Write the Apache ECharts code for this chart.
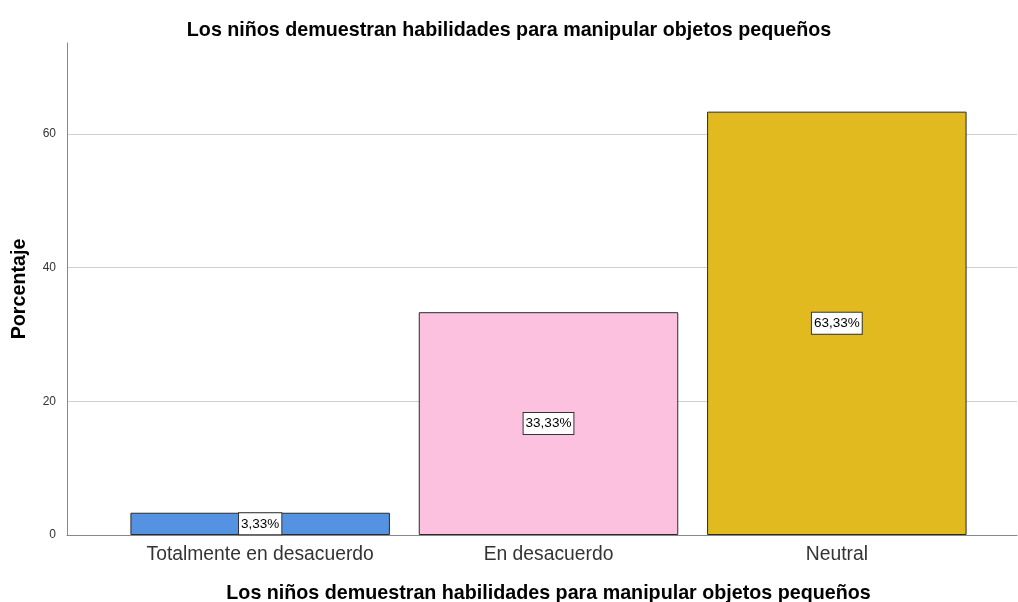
<!DOCTYPE html>
<html>
<head>
<meta charset="utf-8">
<script src="https://cdn.jsdelivr.net/npm/echarts@6/dist/echarts.min.js"></script>
<style>
  html, body { margin: 0; padding: 0; background: #fff; }
  #chart { width: 1018px; height: 602px; }
</style>
</head>
<body>
<div id="chart"></div>
<script>
// Response categories and their share of children (percent)
const categories = ['Totalmente en desacuerdo', 'En desacuerdo', 'Neutral'];
const percentages = [3.33, 33.33, 63.33];
const barColors = ['#5593E2', '#FDC1E0', '#E0BA1F'];
const yTicks = [0, 20, 40, 60];

const chartTitle = 'Los niños demuestran habilidades para manipular objetos pequeños';
const xTitle = 'Los niños demuestran habilidades para manipular objetos pequeños';
const yTitle = 'Porcentaje';

const font = '"Liberation Sans", Arial, sans-serif';
const yMax = 73.6;

const chart = echarts.init(document.getElementById('chart'), null, { renderer: 'canvas' });

chart.setOption({
  backgroundColor: '#ffffff',
  animation: false,
  title: {
    text: chartTitle,
    left: 'center',
    top: 16,
    textStyle: { fontFamily: font, fontSize: 19.7, fontWeight: 'bold', color: '#000' }
  },
  grid: [
    // frame grid: y axis, gridlines, baseline
    { left: 67, right: 1, top: 43, bottom: 67, outerBoundsMode: 'none', containLabel: false },
    // bar grid: category bands
    { left: 116, right: 37, top: 43, bottom: 67, outerBoundsMode: 'none', containLabel: false }
  ],
  xAxis: [
    {
      gridIndex: 0, type: 'value', min: 0, max: 1,
      axisLine: { show: true, onZero: false, lineStyle: { color: '#888', width: 1 } },
      axisTick: { show: false }, axisLabel: { show: false }, splitLine: { show: false }
    },
    {
      gridIndex: 1, type: 'category', data: categories,
      axisLine: { show: false }, axisTick: { show: false },
      axisLabel: {
        fontFamily: font, fontSize: 19.3, color: '#333', margin: 10,
        interval: 0, hideOverlap: false
      },
      name: xTitle, nameLocation: 'middle', nameGap: 49,
      nameTextStyle: { fontFamily: font, fontSize: 19.7, fontWeight: 'bold', color: '#000' }
    }
  ],
  yAxis: [
    {
      gridIndex: 0, type: 'value', min: 0, max: yMax,
      axisLine: { show: true, lineStyle: { color: '#888', width: 1 } },
      axisTick: { show: false, customValues: yTicks },
      axisLabel: {
        fontFamily: font, fontSize: 12, color: '#333', margin: 11,
        customValues: yTicks
      },
      splitLine: { show: true, lineStyle: { color: '#cfcfcf', width: 1 } },
      interval: 20,
      name: yTitle, nameLocation: 'middle', nameGap: 37, nameRotate: 90,
      nameTextStyle: { fontFamily: font, fontSize: 19.7, fontWeight: 'bold', color: '#000' }
    },
    {
      gridIndex: 1, type: 'value', min: 0, max: yMax, show: false,
      splitLine: { show: false }
    }
  ],
  series: [
    {
      type: 'bar',
      xAxisIndex: 1, yAxisIndex: 1,
      barCategoryGap: '10%',
      data: percentages.map((v, i) => ({
        value: v,
        itemStyle: { color: barColors[i], borderColor: '#2a2a2a', borderWidth: 1 }
      })),
      label: {
        show: true,
        position: 'inside',
        formatter: p => p.value.toFixed(2).replace('.', ',') + '%',
        fontFamily: font, fontSize: 13.5, color: '#000',
        backgroundColor: '#ffffff',
        borderColor: '#333', borderWidth: 1,
        padding: [4, 2, 3, 2]
      }
    }
  ]
});
</script>
</body>
</html>
